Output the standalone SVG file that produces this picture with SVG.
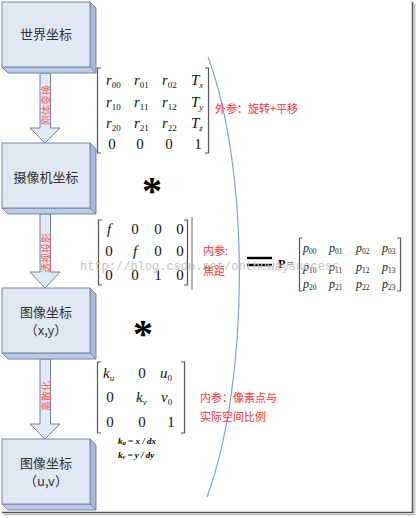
<svg xmlns="http://www.w3.org/2000/svg" width="417" height="518" viewBox="0 0 417 518">
<defs>
<style>
.face{fill:#e0e8f6;stroke:#76869f;stroke-width:1}
.side{fill:#a6b8dd;stroke:#76869f;stroke-width:1}
.bot{fill:#bccbea;stroke:#76869f;stroke-width:1}
.arrow{fill:#e3eaf7;stroke:#6e7e98;stroke-width:1}
.bt{font-family:"Noto Sans CJK SC","Noto Sans",sans-serif;font-size:13px;fill:#333;text-anchor:middle}
.al{font-family:"Noto Sans CJK SC",sans-serif;font-size:10px;fill:#ff5a5a;text-anchor:middle;dominant-baseline:central}
.red{font-family:"Noto Sans CJK SC",sans-serif;font-size:11px;fill:#ff3030}
.m{font-family:"Liberation Serif",serif;font-style:italic;font-size:15px;fill:#111}
.d{font-family:"Liberation Serif",serif;font-size:15px;fill:#111}
.mp{font-family:"Liberation Serif",serif;font-style:italic;font-size:12px;fill:#222}
.br{fill:none;stroke:#555;stroke-width:1.2}
.ast{font-family:"Liberation Serif",serif;font-weight:bold;font-size:40px;fill:#000;text-anchor:middle}
.kk{font-family:"Liberation Serif",serif;font-weight:bold;font-style:italic;font-size:9px;fill:#000}
.wm{font-family:"Liberation Mono",monospace;font-size:12px;fill:#c4c4c4}
</style>
</defs>

<g id="frame">
<line x1="412.5" y1="2" x2="412.5" y2="513" stroke="#555" stroke-width="1.5"/>
<line x1="414.5" y1="4" x2="414.5" y2="515" stroke="#bbb" stroke-width="1.5"/>
<line x1="2" y1="512.5" x2="413" y2="512.5" stroke="#555" stroke-width="1.5"/>
<line x1="4" y1="514.5" x2="415" y2="514.5" stroke="#bbb" stroke-width="1.5"/>
</g>

<g id="connectors">
<g id="arrow1">
<polygon class="arrow" points="40,73 50.5,73 50.5,128 60,128 45,143 30,128 40,128"/>
<text class="al" transform="translate(45,105) rotate(-90)">刚体变换</text>
</g>
<g id="arrow2">
<polygon class="arrow" points="40,214 50.5,214 50.5,272 60,272 45,288 30,272 40,272"/>
<text class="al" transform="translate(45,253) rotate(-90)">透视投影</text>
</g>
<g id="arrow3">
<polygon class="arrow" points="40,359 50.5,359 50.5,424 60,424 45,439 30,424 40,424"/>
<text class="al" transform="translate(45,396) rotate(-90)">离散化</text>
</g>
<path id="arc" d="M208,57 C250,170 250,380 207,497" fill="none" stroke="#7ea2d8" stroke-width="1.2"/>
</g>

<g id="node-world">
<polygon class="side" points="90,2 96,8 96,73 90,67"/>
<polygon class="bot" points="2,67 90,67 96,73 8,73"/>
<rect class="face" x="2" y="2" width="88" height="65"/>
<text class="bt" x="46" y="39">世界坐标</text>
</g>

<g id="node-camera">
<polygon class="side" points="90,143 96,149 96,214 90,208"/>
<polygon class="bot" points="2,208 90,208 96,214 8,214"/>
<rect class="face" x="2" y="143" width="88" height="65"/>
<text class="bt" x="46" y="182">摄像机坐标</text>
</g>

<g id="node-image-xy">
<polygon class="side" points="90,288 96,294 96,359 90,353"/>
<polygon class="bot" points="2,353 90,353 96,359 8,359"/>
<rect class="face" x="2" y="288" width="88" height="65"/>
<text class="bt" x="46" y="317">图像坐标</text>
<text class="bt" x="46" y="335">（x,y）</text>
</g>

<g id="node-image-uv">
<polygon class="side" points="90,439 96,445 96,510 90,504"/>
<polygon class="bot" points="2,504 90,504 96,510 8,510"/>
<rect class="face" x="2" y="439" width="88" height="65"/>
<text class="bt" x="46" y="468">图像坐标</text>
<text class="bt" x="46" y="486">（u,v）</text>
</g>

<g id="matrix-extrinsic">
<path class="br" d="M101,68 H97.5 V153 H101"/>
<path class="br" d="M205,68 H208.5 V153 H205"/>
<text class="m" y="85"><tspan x="106">r</tspan><tspan font-size="9" dy="3" font-style="normal">00</tspan><tspan x="134" dy="-3">r</tspan><tspan font-size="9" dy="3" font-style="normal">01</tspan><tspan x="162" dy="-3">r</tspan><tspan font-size="9" dy="3" font-style="normal">02</tspan><tspan x="191" dy="-3">T</tspan><tspan font-size="9" dy="3">x</tspan></text>
<text class="m" y="107"><tspan x="106">r</tspan><tspan font-size="9" dy="3" font-style="normal">10</tspan><tspan x="134" dy="-3">r</tspan><tspan font-size="9" dy="3" font-style="normal">11</tspan><tspan x="162" dy="-3">r</tspan><tspan font-size="9" dy="3" font-style="normal">12</tspan><tspan x="191" dy="-3">T</tspan><tspan font-size="9" dy="3">y</tspan></text>
<text class="m" y="128"><tspan x="106">r</tspan><tspan font-size="9" dy="3" font-style="normal">20</tspan><tspan x="134" dy="-3">r</tspan><tspan font-size="9" dy="3" font-style="normal">21</tspan><tspan x="162" dy="-3">r</tspan><tspan font-size="9" dy="3" font-style="normal">22</tspan><tspan x="191" dy="-3">T</tspan><tspan font-size="9" dy="3">z</tspan></text>
<text class="d" y="149" text-anchor="middle"><tspan x="112">0</tspan><tspan x="140">0</tspan><tspan x="169">0</tspan><tspan x="198">1</tspan></text>
<text class="red" x="215" y="113">外参：旋转+平移</text>
</g>

<text class="ast" x="152" y="204">*</text>

<g id="matrix-focal">
<path class="br" d="M102,220 H98.5 V285 H102"/>
<path class="br" d="M184,220 H187.5 V285 H184"/>
<line x1="192" y1="217" x2="192" y2="290" stroke="#666" stroke-width="1"/>
<text class="d" y="234" text-anchor="middle"><tspan x="109" font-style="italic">f</tspan><tspan x="135">0</tspan><tspan x="158">0</tspan><tspan x="180">0</tspan></text>
<text class="d" y="256" text-anchor="middle"><tspan x="109">0</tspan><tspan x="135" font-style="italic">f</tspan><tspan x="158">0</tspan><tspan x="180">0</tspan></text>
<text class="d" y="280" text-anchor="middle"><tspan x="109">0</tspan><tspan x="135">0</tspan><tspan x="158">1</tspan><tspan x="180">0</tspan></text>
<text class="red" x="203" y="255">内参:</text>
<text class="red" x="203" y="275">焦距</text>
</g>

<g id="equals">
<line x1="247" y1="258" x2="272" y2="258" stroke="#000" stroke-width="2.4"/>
<line x1="247" y1="265" x2="272" y2="265" stroke="#000" stroke-width="2.4"/>
</g>

<g id="matrix-P">
<text x="278" y="268" font-family="Liberation Serif,serif" font-weight="bold" font-size="12" fill="#000">P</text>
<text x="287" y="268" font-family="Liberation Serif,serif" font-size="12" fill="#666">=</text>
<path class="br" d="M302,238 H299.5 V291 H302"/>
<path class="br" d="M397,238 H400.5 V291 H397"/>
<text class="mp" y="252"><tspan x="303">p</tspan><tspan font-size="7.5" dy="2" font-style="normal">00</tspan><tspan x="329" dy="-2">p</tspan><tspan font-size="7.5" dy="2" font-style="normal">01</tspan><tspan x="356" dy="-2">p</tspan><tspan font-size="7.5" dy="2" font-style="normal">02</tspan><tspan x="382" dy="-2">p</tspan><tspan font-size="7.5" dy="2" font-style="normal">03</tspan></text>
<text class="mp" y="271"><tspan x="303">p</tspan><tspan font-size="7.5" dy="2" font-style="normal">10</tspan><tspan x="329" dy="-2">p</tspan><tspan font-size="7.5" dy="2" font-style="normal">11</tspan><tspan x="356" dy="-2">p</tspan><tspan font-size="7.5" dy="2" font-style="normal">12</tspan><tspan x="382" dy="-2">p</tspan><tspan font-size="7.5" dy="2" font-style="normal">13</tspan></text>
<text class="mp" y="288"><tspan x="303">p</tspan><tspan font-size="7.5" dy="2" font-style="normal">20</tspan><tspan x="329" dy="-2">p</tspan><tspan font-size="7.5" dy="2" font-style="normal">21</tspan><tspan x="356" dy="-2">p</tspan><tspan font-size="7.5" dy="2" font-style="normal">22</tspan><tspan x="382" dy="-2">p</tspan><tspan font-size="7.5" dy="2" font-style="normal">23</tspan></text>
</g>

<text class="wm" x="80" y="270">http://blog.csdn.net/onthewaysuccess</text>

<text class="ast" x="143" y="347">*</text>

<g id="matrix-pixel">
<path class="br" d="M101,362 H97.5 V433 H101"/>
<path class="br" d="M181,362 H184.5 V433 H181"/>
<text class="m" y="378" font-size="16"><tspan x="103">k</tspan><tspan font-size="9" dy="3">u</tspan><tspan x="142" dy="-3" font-style="normal" text-anchor="middle">0</tspan><tspan x="160">u</tspan><tspan font-size="9" dy="3" font-style="normal">0</tspan></text>
<text class="m" y="402" font-size="16"><tspan x="110" font-style="normal" text-anchor="middle">0</tspan><tspan x="136">k</tspan><tspan font-size="9" dy="3">v</tspan><tspan x="161" dy="-3">v</tspan><tspan font-size="9" dy="3" font-style="normal">0</tspan></text>
<text class="d" y="427" font-size="16" text-anchor="middle"><tspan x="110">0</tspan><tspan x="142">0</tspan><tspan x="171">1</tspan></text>
<text class="kk" x="118" y="444">k<tspan font-size="6" dy="1">u</tspan><tspan dy="-1"> = x / dx</tspan></text>
<text class="kk" x="118" y="458">k<tspan font-size="6" dy="1">v</tspan><tspan dy="-1"> = y / dy</tspan></text>
<text class="red" x="200" y="402">内参：像素点与</text>
<text class="red" x="200" y="421">实际空间比例</text>
</g>
</svg>
